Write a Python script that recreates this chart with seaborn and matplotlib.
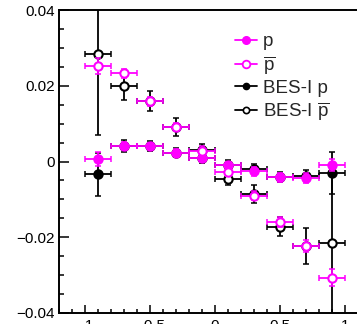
import numpy as np
import pandas as pd
import matplotlib
matplotlib.use("Agg")
import matplotlib.pyplot as plt
from matplotlib.lines import Line2D
from matplotlib.ticker import MultipleLocator, FixedLocator, FixedFormatter
import seaborn as sns

# Data
bin_centers = [-0.9, -0.7, -0.5, -0.3, -0.1, 0.1, 0.3, 0.5, 0.7, 0.9]
bin_half_width = [0.1] * 10

p_vals = [0.0007, 0.0042, 0.0041, 0.0023, 0.0008, -0.0010, -0.0026, -0.0042, -0.0044, -0.0009]
p_errs = [0.0019, 0.0010, 0.0009, 0.0009, 0.0010, 0.0010, 0.0011, 0.0012, 0.0014, 0.0015]

pbar_vals = [0.0252, 0.0233, 0.0159, 0.0092, 0.0029, -0.0028, -0.0090, -0.0160, -0.0223, -0.0307]
pbar_errs = [0.0022, 0.0012, 0.0012, 0.0011, 0.0011, 0.0011, 0.0012, 0.0013, 0.0016, 0.0022]

bes_p_vals = [-0.0034, 0.0041, 0.0041, 0.0023, 0.0009, -0.0008, -0.0019, -0.0040, -0.0037, -0.0031]
bes_p_errs = [0.0057, 0.0016, 0.0013, 0.0012, 0.0014, 0.0013, 0.0013, 0.0013, 0.0015, 0.0056]

bes_pbar_vals = [0.0285, 0.0199, 0.0159, 0.0091, 0.0030, -0.0045, -0.0086, -0.0172, -0.0223, -0.0215]
bes_pbar_errs = [0.0216, 0.0037, 0.0026, 0.0024, 0.0017, 0.0018, 0.0024, 0.0026, 0.0048, 0.0210]

xtick_vals = [-1, -0.5, 0, 0.5, 1]
xtick_labels = ["\u22121", "\u22120.5", "0", "0.5", "1"]
ytick_vals = [-0.04, -0.02, 0, 0.02, 0.04]
ytick_labels = ["\u22120.04", "\u22120.02", "0", "0.02", "0.04"]

legend_labels = ["p", r"$\overline{\mathrm{p}}$", "BES-I p", r"BES-I $\overline{\mathrm{p}}$"]

MAGENTA = "#ff00ff"
BLACK = "#000000"

sns.set_theme(style="ticks")
plt.rcParams["font.family"] = ["Liberation Sans", "DejaVu Sans"]
plt.rcParams["mathtext.fontset"] = "custom"
plt.rcParams["mathtext.rm"] = "Liberation Sans"

fig = plt.figure(figsize=(3.57, 3.24), dpi=100)
ax = fig.add_axes([0.165, 0.034, 0.835, 0.935])

series = [
    (bes_p_vals, bes_p_errs, BLACK, True),
    (bes_pbar_vals, bes_pbar_errs, BLACK, False),
    (p_vals, p_errs, MAGENTA, True),
    (pbar_vals, pbar_errs, MAGENTA, False),
]

z = 2
for vals, errs, col, filled in series:
    ax.errorbar(bin_centers, vals, xerr=bin_half_width, yerr=errs, fmt="none",
                ecolor=col, elinewidth=1.3, capsize=2.0, capthick=1.1, zorder=z)
    df = pd.DataFrame({"x": bin_centers, "y": vals})
    sns.scatterplot(data=df, x="x", y="y", ax=ax, marker="o", s=36,
                    color=col if filled else "white", edgecolor=col,
                    linewidth=1.5, zorder=z + 1, legend=False)
    z += 2

ax.set_xlim(-1.2, 1.09)
ax.set_ylim(-0.04, 0.04)
ax.set_xlabel("")
ax.set_ylabel("")

ax.xaxis.set_major_locator(FixedLocator(xtick_vals))
ax.xaxis.set_major_formatter(FixedFormatter(xtick_labels))
ax.xaxis.set_minor_locator(MultipleLocator(0.1))
ax.yaxis.set_major_locator(FixedLocator(ytick_vals))
ax.yaxis.set_major_formatter(FixedFormatter(ytick_labels))
ax.yaxis.set_minor_locator(MultipleLocator(0.005))

ax.tick_params(axis="both", which="both", direction="in", width=1.1, colors="black",
               labelsize=11, top=False, right=False)
ax.tick_params(axis="x", which="major", length=6, pad=4)
ax.tick_params(axis="x", which="minor", length=3)
ax.tick_params(axis="y", which="major", length=7, pad=3)
ax.tick_params(axis="y", which="minor", length=3.5)

for side in ["left", "bottom", "top"]:
    ax.spines[side].set_linewidth(1.4)
    ax.spines[side].set_color("black")
ax.spines["right"].set_visible(False)

handles = [
    Line2D([], [], color=MAGENTA, lw=1.3, marker="o", markersize=5.5, markerfacecolor=MAGENTA, markeredgecolor=MAGENTA),
    Line2D([], [], color=MAGENTA, lw=1.3, marker="o", markersize=5.5, markerfacecolor="white", markeredgecolor=MAGENTA, markeredgewidth=1.3),
    Line2D([], [], color=BLACK, lw=1.3, marker="o", markersize=4.5, markerfacecolor=BLACK, markeredgecolor=BLACK),
    Line2D([], [], color=BLACK, lw=1.3, marker="o", markersize=4.5, markerfacecolor="white", markeredgecolor=BLACK, markeredgewidth=1.2),
]
fig.legend(handles, legend_labels, loc="upper left", bbox_to_anchor=(0.658, 0.898),
           frameon=False, fontsize=13.5, handlelength=1.2, handletextpad=0.3,
           labelspacing=0.2, borderpad=0, borderaxespad=0)

fig.savefig("out.png", dpi=100)
